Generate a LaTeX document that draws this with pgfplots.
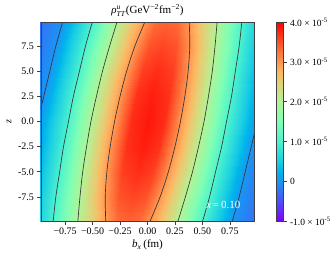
\documentclass[border=0pt]{standalone}
\usepackage{fontspec}
\setmainfont{Liberation Serif}
\usepackage{pgfplots}
\pgfplotsset{compat=1.18}
\pgfplotsset{colormap={mrainbow}{rgb(0)=(0.5,0,1) rgb(10)=(0.3,0.309,0.988) rgb(20)=(0.1,0.588,0.951) rgb(25)=(0,0.707,0.924) rgb(30)=(0.1,0.809,0.891) rgb(40)=(0.3,0.951,0.809) rgb(50)=(0.5,1,0.707) rgb(60)=(0.7,0.951,0.588) rgb(70)=(0.9,0.809,0.454) rgb(75)=(1,0.707,0.383) rgb(80)=(1,0.588,0.309) rgb(90)=(1,0.309,0.156) rgb(100)=(1,0,0)}}
\pgfplotstableread{
b z v
-1.48 -10 -0.45
-1.13 -10 0
-0.86 -10 1
-0.635 -10 2
-0.38 -10 3
-0.28 -10 3.30
-0.18 -10 3.36
-0.08 -10 3.30
0.02 -10 3
0.275 -10 2
0.50 -10 1
0.77 -10 0
1.12 -10 -0.45
-1.435 -7.5 -0.45
-1.105 -7.5 0
-0.835 -7.5 1
-0.615 -7.5 2
-0.385 -7.5 3
-0.26 -7.5 3.47
-0.135 -7.5 3.56
-0.01 -7.5 3.47
0.115 -7.5 3
0.345 -7.5 2
0.565 -7.5 1
0.835 -7.5 0
1.165 -7.5 -0.45
-1.39 -5 -0.45
-1.07 -5 0
-0.80 -5 1
-0.59 -5 2
-0.37 -5 3
-0.23 -5 3.60
-0.09 -5 3.72
0.05 -5 3.60
0.19 -5 3
0.41 -5 2
0.62 -5 1
0.89 -5 0
1.21 -5 -0.45
-1.345 -2.5 -0.45
-1.035 -2.5 0
-0.765 -2.5 1
-0.555 -2.5 2
-0.34 -2.5 3
-0.1925 -2.5 3.68
-0.045 -2.5 3.82
0.1025 -2.5 3.68
0.25 -2.5 3
0.465 -2.5 2
0.675 -2.5 1
0.945 -2.5 0
1.255 -2.5 -0.45
-1.3 0 -0.45
-1.0 0 0
-0.72 0 1
-0.515 0 2
-0.30 0 3
-0.15 0 3.72
0 0 3.86
0.15 0 3.72
0.30 0 3
0.515 0 2
0.72 0 1
1.0 0 0
1.3 0 -0.45
-1.255 2.5 -0.45
-0.945 2.5 0
-0.675 2.5 1
-0.465 2.5 2
-0.25 2.5 3
-0.1025 2.5 3.68
0.045 2.5 3.82
0.1925 2.5 3.68
0.34 2.5 3
0.555 2.5 2
0.765 2.5 1
1.035 2.5 0
1.345 2.5 -0.45
-1.21 5 -0.45
-0.89 5 0
-0.62 5 1
-0.41 5 2
-0.19 5 3
-0.05 5 3.60
0.09 5 3.72
0.23 5 3.60
0.37 5 3
0.59 5 2
0.80 5 1
1.07 5 0
1.39 5 -0.45
-1.165 7.5 -0.45
-0.835 7.5 0
-0.565 7.5 1
-0.345 7.5 2
-0.115 7.5 3
0.01 7.5 3.47
0.135 7.5 3.56
0.26 7.5 3.47
0.385 7.5 3
0.615 7.5 2
0.835 7.5 1
1.105 7.5 0
1.435 7.5 -0.45
-1.12 10 -0.45
-0.77 10 0
-0.50 10 1
-0.275 10 2
-0.02 10 3
0.08 10 3.30
0.18 10 3.36
0.28 10 3.30
0.38 10 3
0.635 10 2
0.86 10 1
1.13 10 0
1.48 10 -0.45
}\fieldtable
\begin{document}
\begin{tikzpicture}
\path[use as bounding box] (-41pt,-37pt) rectangle (294pt,221pt);
\begin{axis}[
  at={(0pt,0pt)}, anchor=south west,
  scale only axis, width=213pt, height=199pt,
  xmin=-0.97, xmax=0.97, ymin=-9.9, ymax=9.9,
  colormap name=mrainbow, point meta min=-1, point meta max=4,
  axis on top,
  axis line style={black!75, line width=0.6pt},
  tick align=outside, xtick pos=bottom, ytick pos=left,
  major tick length=3.5pt,
  every tick/.style={black!75, line width=0.6pt},
  xtick={-0.75,-0.5,-0.25,0,0.25,0.5,0.75},
  xticklabels={−0.75,−0.50,−0.25,0.00,0.25,0.50,0.75},
  ytick={-7.5,-5,-2.5,0,2.5,5,7.5},
  yticklabels={-7.5,-5.0,-2.5,0.0,2.5,5.0,7.5},
  tick label style={font=\fontsize{10}{12}\selectfont},
  xlabel={\textit{b}\textsubscript{\textit{x}}\,(fm)},
  xlabel style={font=\fontsize{11}{13}\selectfont, yshift=2pt},
  ylabel={\textit{z}},
  ylabel style={font=\fontsize{10}{12}\selectfont},
  title={$\mbox{\textit{ρ}}^{\mbox{\fontsize{7.5}{8}\selectfont\textit{u}}}_{\mbox{\fontsize{7.5}{8}\selectfont\textit{TT}}}$(GeV\textsuperscript{−2}fm\textsuperscript{−2})},
  title style={font=\fontsize{11}{13}\selectfont, yshift=-4pt},
  colorbar,
  colorbar style={
    at={(parent axis.north east)}, anchor=north west, xshift=14pt,
    width=7pt,
    axis line style={black!75, line width=0.6pt},
    ytick={-1,0,1,2,3,4},
    yticklabels={-1.0 × 10\textsuperscript{-5},0,1.0 × 10\textsuperscript{-5},2.0 × 10\textsuperscript{-5},3.0 × 10\textsuperscript{-5},4.0 × 10\textsuperscript{-5}},
    tick align=outside, ytick pos=right, major tick length=3pt,
    yticklabel style={font=\fontsize{9.5}{11}\selectfont},
  },
]
\addplot[surf, shader=interp, mesh/rows=9, mesh/cols=13, point meta=explicit] table[x=b, y=z, meta=v] {\fieldtable};
\addplot[black!80, line width=0.65pt, smooth] coordinates {(-1.0,0) (-0.945,2.5) (-0.89,5) (-0.835,7.5) (-0.77,10)};
\addplot[black!80, line width=0.65pt, smooth] coordinates {(0.77,-10) (0.835,-7.5) (0.89,-5) (0.945,-2.5) (1.0,0)};
\addplot[black!80, line width=0.65pt, smooth] coordinates {(-0.86,-10) (-0.835,-7.5) (-0.80,-5) (-0.765,-2.5) (-0.72,0) (-0.675,2.5) (-0.62,5) (-0.565,7.5) (-0.50,10)};
\addplot[black!80, line width=0.65pt, smooth] coordinates {(0.50,-10) (0.565,-7.5) (0.62,-5) (0.675,-2.5) (0.72,0) (0.765,2.5) (0.80,5) (0.835,7.5) (0.86,10)};
\addplot[black!80, line width=0.65pt, smooth] coordinates {(-0.635,-10) (-0.615,-7.5) (-0.59,-5) (-0.555,-2.5) (-0.515,0) (-0.465,2.5) (-0.41,5) (-0.345,7.5) (-0.275,10)};
\addplot[black!80, line width=0.65pt, smooth] coordinates {(0.275,-10) (0.345,-7.5) (0.41,-5) (0.465,-2.5) (0.515,0) (0.555,2.5) (0.59,5) (0.615,7.5) (0.635,10)};
\addplot[black!80, line width=0.65pt, smooth] coordinates {(-0.38,-10) (-0.385,-7.5) (-0.37,-5) (-0.34,-2.5) (-0.30,0) (-0.25,2.5) (-0.19,5) (-0.115,7.5) (-0.02,10)};
\addplot[black!80, line width=0.65pt, smooth] coordinates {(0.02,-10) (0.115,-7.5) (0.19,-5) (0.25,-2.5) (0.30,0) (0.34,2.5) (0.37,5) (0.385,7.5) (0.38,10)};
\node[text=white, font=\fontsize{11}{13}\selectfont] at (axis cs:0.69,-8.3) {\textit{x}\,=\,0.10};
\end{axis}
\end{tikzpicture}
\end{document}
